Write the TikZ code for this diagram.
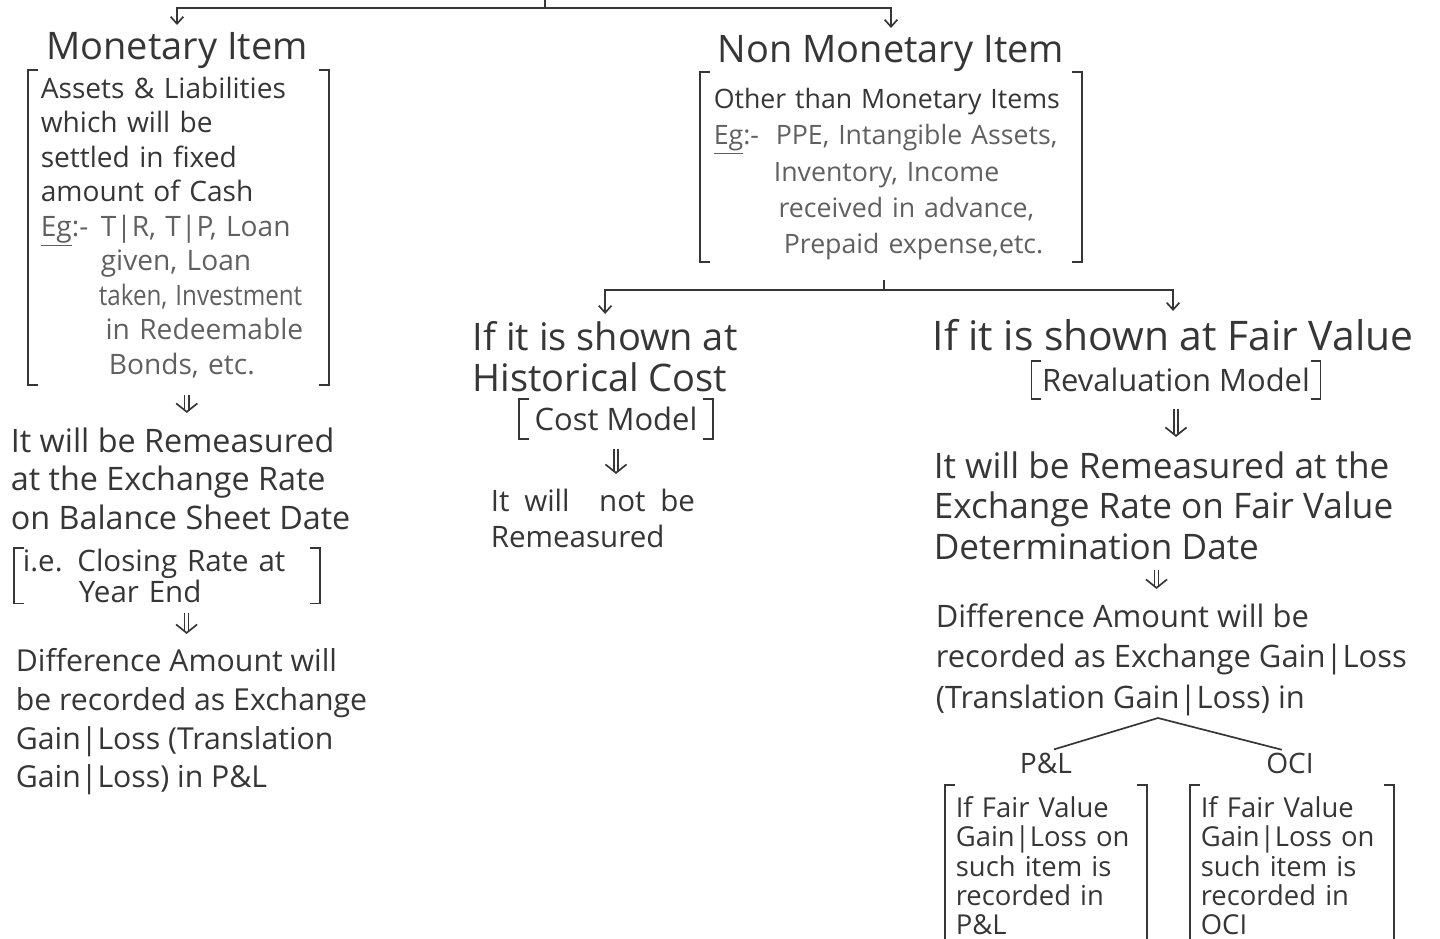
\documentclass[tikz,border=0pt]{standalone}
\usepackage{fontspec}
\setmainfont{Open Sans}
\usetikzlibrary{arrows.meta,positioning,calc}

\definecolor{ink}{HTML}{363636}
\definecolor{lead}{HTML}{606060}

% label "Eg:-" followed by the list
\newcommand{\egmark}[1]{\makebox[#1][l]{\underline{Eg}:-}}
% square brackets round a node
\newcommand{\sqbrackets}[1]{%
  \draw ([xshift=7pt]#1.north west) -- (#1.north west) -- (#1.south west) -- ([xshift=7pt]#1.south west);
  \draw ([xshift=-7pt]#1.north east) -- (#1.north east) -- (#1.south east) -- ([xshift=-7pt]#1.south east);}
% brackets that run off the bottom
\newcommand{\openbrackets}[1]{%
  \draw ([xshift=7pt]#1.north west) -- (#1.north west) -- (#1.north west |- base);
  \draw ([xshift=-7pt]#1.north east) -- (#1.north east) -- (#1.north east |- base);}

\begin{document}
\begin{tikzpicture}[x=0.025cm,y=-0.025cm,line width=1.2pt,color=ink,
  title/.style={font=\fontsize{27}{32}\selectfont,text=ink,inner sep=0pt},
  note/.style={font=\fontsize{22}{27.3}\selectfont,text=ink,inner sep=0pt,align=left,anchor=north west},
  brbox/.style={font=\fontsize{20}{24.5}\selectfont,text=ink,inner ysep=0pt,align=left,anchor=north west},
  tree/.style={-{Straight Barb[length=5pt,width=9pt]},shorten >=5pt},
  dbl/.style={double,double distance=2pt,line width=1pt,-{Straight Barb[length=6pt,width=15pt,line width=1.2pt]},shorten <=7pt,shorten >=10pt}]
  \useasboundingbox (0,0) rectangle (1440,939);
  \coordinate (base) at (0,939);

  % first split
  \coordinate (top) at (545,0);
  \coordinate (split) at (545,8);
  \node[title] (mon) at (177,51) {Monetary Item};
  \node[title] (nonmon) at (891,54) {Non Monetary Item};
  \draw (top) -- (split);
  \draw[tree] (split) -| (mon.north);
  \draw[tree] (split) -| (nonmon.north);

  % monetary side
  \node[brbox,inner xsep=8.5pt,text width=6.875cm,minimum height=7.825cm] (mdef) at (28,70)
    {Assets \& Liabilities\\ which will be\\ settled in fixed\\ amount of Cash\\
     \textcolor{lead}{\egmark{1.5cm}T|R, T|P, Loan}\\
     \textcolor{lead}{\hspace*{1.5cm}given, Loan}\\
     \textcolor{lead}{\hspace*{1.45cm}\scalebox{0.86}[1]{taken, Investment}}\\
     \textcolor{lead}{\hspace*{1.62cm}in Redeemable}\\
     \textcolor{lead}{\hspace*{1.7cm}Bonds, etc.}};
  \sqbrackets{mdef}
  \node[note,font=\fontsize{23}{27.3}\selectfont] (remeas) at (10,427)
    {It will be Remeasured\\ at the Exchange Rate\\ on Balance Sheet Date};
  \node[brbox,font=\fontsize{21}{20.5}\selectfont,inner xsep=5.7pt,text width=7.2cm,minimum height=1.3cm] (close) at (14,548)
    {i.e. Closing Rate at\\ \hspace*{1.4cm}Year End};
  \sqbrackets{close}
  \node[note,font=\fontsize{21.5}{27.4}\selectfont] (diffm) at (15,648)
    {Difference Amount will\\ be recorded as Exchange\\ Gain|Loss (Translation\\ Gain|Loss) in P\&L};
  \draw[dbl] ([xshift=6pt]mdef.south) -- ([xshift=6pt]mdef.south |- remeas.north);
  \draw[dbl] ([xshift=14pt]close.south) -- ([xshift=14pt]close.south |- diffm.north);

  % non monetary side
  \node[brbox,font=\fontsize{19}{25.7}\selectfont,inner xsep=9.2pt,text width=8.85cm,minimum height=4.7cm] (nmdef) at (700,72)
    {\rule{0pt}{1.3em}Other than Monetary Items\\
     \textcolor{lead}{\egmark{1.55cm}PPE, Intangible Assets,}\\
     \textcolor{lead}{\hspace*{1.5cm}Inventory, Income}\\
     \textcolor{lead}{\hspace*{1.62cm}received in advance,}\\
     \textcolor{lead}{\hspace*{1.75cm}Prepaid expense,etc.}};
  \sqbrackets{nmdef}
  \coordinate (ntick) at (884,280);
  \coordinate (nsplit) at (884,290);
  \draw (ntick) -- (nsplit);

  % historical cost
  \node[note,font=\fontsize{27}{29}\selectfont] (hist) at (472,321)
    {If it is shown at\\ Historical Cost};
  \node[font=\fontsize{22}{26}\selectfont,text=ink,inner sep=0pt,minimum width=4.8cm,minimum height=0.95cm] (costm) at (616,419) {Cost Model};
  \sqbrackets{costm}
  \node[note,font=\fontsize{21}{26}\selectfont] (notre) at (490,488)
    {It\enspace will\quad not\enspace be\\ Remeasured};
  \draw[tree] (nsplit) -| (hist.north);
  \draw[dbl] (costm.south) -- (costm.south |- notre.north);

  % fair value
  \node[note,font=\fontsize{29}{29}\selectfont] (fair) at (932,318) {If it is shown at Fair Value};
  \node[font=\fontsize{22}{26}\selectfont,text=ink,inner sep=0pt,minimum width=7.175cm,minimum height=0.9cm] (reval) at (1176,380) {Revaluation Model};
  \sqbrackets{reval}
  \node[note,font=\fontsize{25}{28.7}\selectfont] (remeasf) at (933,451)
    {It will be Remeasured at the\\ Exchange Rate on Fair Value\\ Determination Date};
  \node[note,font=\fontsize{22}{28.7}\selectfont] (difff) at (935,603)
    {Difference Amount will be\\ recorded as Exchange Gain|Loss\\ (Translation Gain|Loss) in};
  \draw[tree] (nsplit) -| (fair.north);
  \draw[dbl] (reval.south) -- (reval.south |- remeasf.north);
  \draw[dbl] ([xshift=-5pt]remeasf.south) -- ([xshift=-5pt]remeasf.south |- difff.north);

  % P&L or OCI
  \coordinate (fork) at (1158,718);
  \node[title,font=\fontsize{20}{24}\selectfont] (pl) at (1046,763) {P\&L};
  \node[title,font=\fontsize{20}{24}\selectfont] (oci) at (1290,763) {OCI};
  \draw[shorten >=6pt] (fork) -- (pl.north);
  \draw[shorten >=6pt] (fork) -- (oci.north);
  \node[brbox,font=\fontsize{19.5}{20.7}\selectfont,inner xsep=7.1pt,inner ysep=7.8pt,text width=4.5cm] (plbox) at (945,785)
    {If Fair Value\\ Gain|Loss on\\ such item is\\ recorded in\\ P\&L};
  \openbrackets{plbox}
  \node[brbox,font=\fontsize{19.5}{20.7}\selectfont,inner xsep=7.1pt,inner ysep=7.8pt,text width=4.55cm] (ocibox) at (1190,785)
    {If Fair Value\\ Gain|Loss on\\ such item is\\ recorded in\\ OCI};
  \openbrackets{ocibox}
\end{tikzpicture}
\end{document}
